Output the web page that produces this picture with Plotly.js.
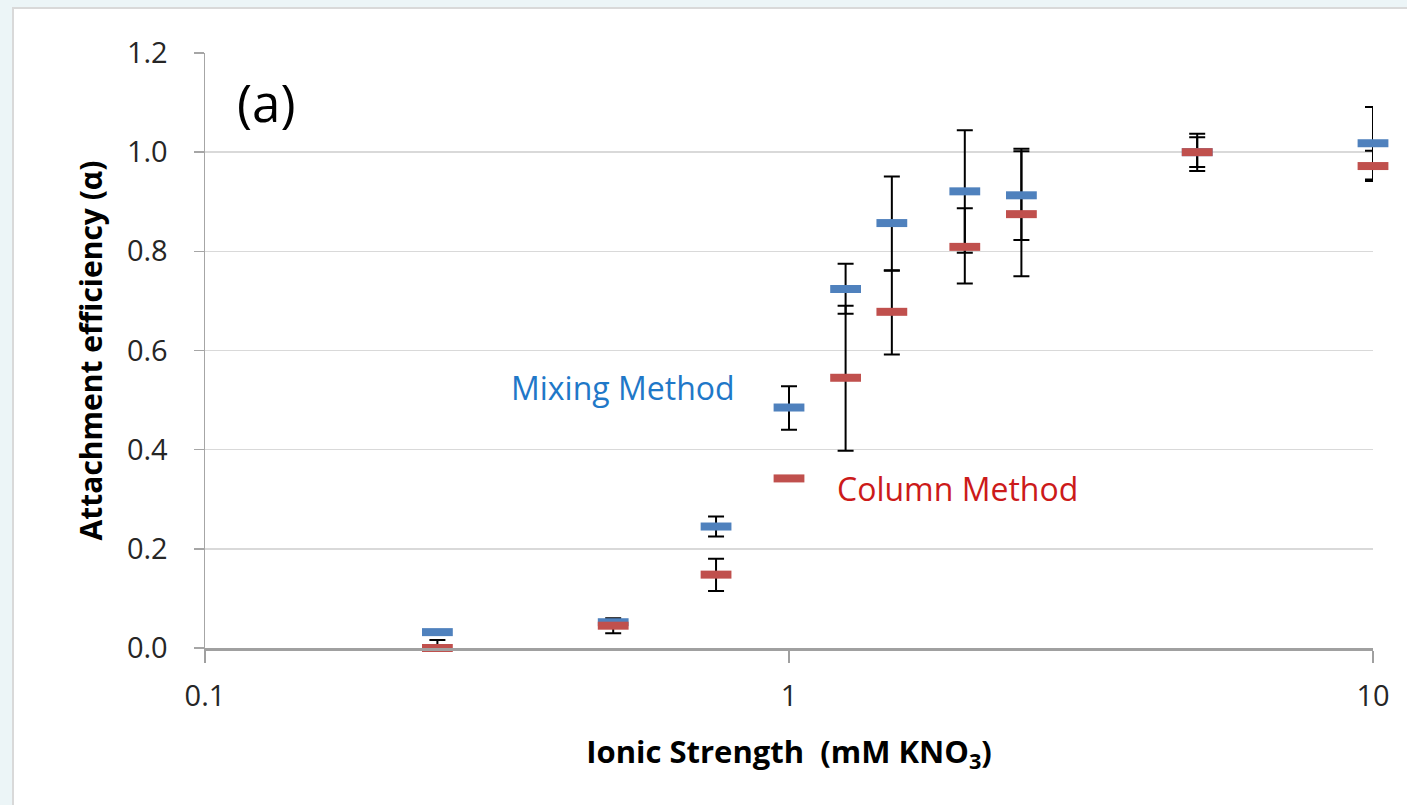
<!DOCTYPE html>
<html>
<head>
<meta charset="utf-8">
<script src="https://cdn.plot.ly/plotly-3.0.1.min.js"></script>
<style>
  html, body { margin: 0; padding: 0; background: #ecf5f7; width: 1407px; height: 805px; overflow: hidden; }
  #panel { position: absolute; left: 12px; top: 7px; width: 1420px; height: 820px; background: #ffffff; border: 2px solid #d9d9d9; box-sizing: border-box; }
  #chart { position: absolute; left: 0; top: 0; width: 1407px; height: 805px; }
</style>
</head>
<body>
<div id="panel"></div>
<div id="chart"></div>
<script>
// Ionic strength (mM KNO3)
const ionicStrength = [0.25, 0.5, 0.75, 1.0, 1.25, 1.5, 2.0, 2.5, 5.0, 10.0];

// Mixing method
const mixingAlpha    = [0.032, 0.052, 0.245, 0.485, 0.724, 0.857, 0.921, 0.913, 1.000, 1.018];
const mixingErrPlus  = [0.000, 0.000, 0.020, 0.043, 0.051, 0.094, 0.123, 0.094, 0.030, 0.073];
const mixingErrMinus = [0.000, 0.000, 0.020, 0.045, 0.050, 0.096, 0.124, 0.090, 0.030, 0.073];

// Column method
const columnAlpha    = [0.000, 0.045, 0.148, 0.342, 0.545, 0.678, 0.809, 0.875, 1.000, 0.972];
const columnErrPlus  = [0.016, 0.015, 0.032, 0.000, 0.145, 0.084, 0.078, 0.127, 0.037, 0.031];
const columnErrMinus = [0.000, 0.015, 0.033, 0.000, 0.147, 0.086, 0.074, 0.125, 0.038, 0.030];

const yTicks = [0, 0.2, 0.4, 0.6, 0.8, 1.0, 1.2];
const xTicks = [0.1, 1, 10];
const xTickLabels = ['0.1', '1', '10'];

const blue = '#4f81bd';
const red = '#c0504d';
const FONT = '"Open Sans", Lato, sans-serif';

function errTrace(y, plus, minus) {
  return {
    x: ionicStrength, y: y, type: 'scatter', mode: 'markers',
    marker: { size: 1, color: 'rgba(0,0,0,0)' },
    error_y: { type: 'data', symmetric: false, array: plus, arrayminus: minus,
               color: '#000000', thickness: 2, width: 8 },
    hoverinfo: 'skip', showlegend: false, cliponaxis: true
  };
}
function markTrace(y, color, name) {
  return {
    x: ionicStrength, y: y, type: 'scatter', mode: 'markers', name: name,
    marker: { symbol: 'line-ew', size: 22, line: { width: 8, color: color } },
    showlegend: false, cliponaxis: false
  };
}

const data = [
  errTrace(mixingAlpha, mixingErrPlus, mixingErrMinus),
  errTrace(columnAlpha, columnErrPlus, columnErrMinus),
  markTrace(mixingAlpha, blue, 'Mixing Method'),
  markTrace(columnAlpha, red, 'Column Method')
];

const layout = {
  width: 1407, height: 805,
  margin: { l: 205, r: 34, t: 53, b: 157 },
  paper_bgcolor: 'rgba(0,0,0,0)',
  plot_bgcolor: 'rgba(0,0,0,0)',
  font: { family: FONT, color: '#262626' },
  showlegend: false,
  xaxis: {
    type: 'log', range: [-1, 1],
    tickvals: xTicks, ticktext: xTickLabels,
    showgrid: false, zeroline: false,
    showline: true, linecolor: '#a0a0a0', linewidth: 2.5,
    ticks: 'outside', ticklen: 12, tickcolor: '#a0a0a0', tickwidth: 1.5,
    tickfont: { size: 29, family: FONT, color: '#262626' },
    ticklabelstandoff: 9,
    title: { text: '<b>Ionic Strength  (mM KNO<sub>3</sub>)</b>', font: { size: 31, family: FONT, color: '#000000' }, standoff: 28 }
  },
  yaxis: {
    range: [0, 1.2], tickvals: yTicks, tickformat: '.1f',
    showgrid: true, gridcolor: '#d9d9d9', gridwidth: 1.5,
    zeroline: false,
    showline: true, linecolor: '#a6a6a6', linewidth: 1.5,
    ticks: 'outside', ticklen: 10, tickcolor: '#a6a6a6', tickwidth: 1.5,
    tickfont: { size: 29, family: FONT, color: '#262626' },
    ticklabelstandoff: 20,
    title: { text: '<b>Attachment efficiency (α)</b>', font: { size: 30, family: FONT, color: '#000000' }, standoff: 15 }
  },
  annotations: [
    { xref: 'paper', yref: 'paper', x: 0.026, y: 0.918, xanchor: 'left', yanchor: 'middle',
      text: '(a)', showarrow: false, font: { size: 51, family: FONT, color: '#000000' } },
    { xref: 'x', yref: 'y', x: -0.48, y: 0.526, xanchor: 'left', yanchor: 'middle',
      text: 'Mixing Method', showarrow: false, font: { size: 32, family: FONT, color: '#1f78c8' } },
    { xref: 'x', yref: 'y', x: 0.0795, y: 0.322, xanchor: 'left', yanchor: 'middle',
      text: 'Column Method', showarrow: false, font: { size: 32, family: FONT, color: '#cc1a1a' } }
  ]
};

Plotly.newPlot('chart', data, layout, { displayModeBar: false, staticPlot: true });
</script>
</body>
</html>
